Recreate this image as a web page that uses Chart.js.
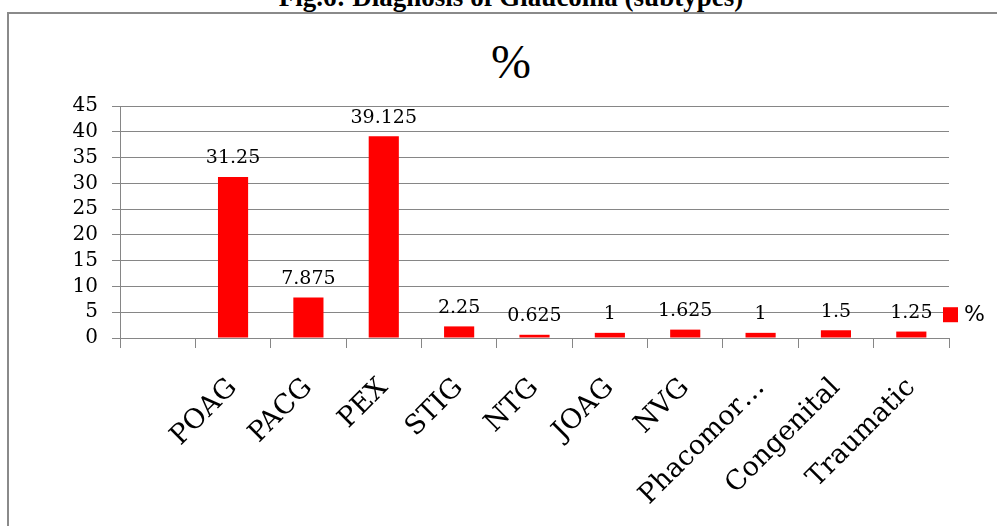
<!DOCTYPE html>
<html>
<head>
<meta charset="utf-8">
<script src="https://cdn.jsdelivr.net/npm/chart.js@4"></script>
<style>
  html, body { margin: 0; padding: 0; background: #fff; }
  #wrap { position: relative; width: 997px; height: 526px; overflow: hidden; }
  #figTitle {
    position: absolute; left: 0; width: 1022px; top: -16px; line-height: 27px;
    text-align: center; font-family: "Liberation Serif", serif; font-size: 27px; font-weight: bold; color: #000;
  }
  #frame {
    position: absolute; left: 7px; top: 12px; width: 1000px; height: 600px;
    border-top: 2px solid #8a8a8a; border-left: 2px solid #8a8a8a;
  }
  #chartTitle {
    position: absolute; left: 0; width: 1022px; top: 38px; line-height: 48px;
    text-align: center; font-family: "Liberation Serif", serif; font-size: 48px; color: #000;
  }
  canvas { position: absolute; left: 0; top: 0; }
</style>
</head>
<body>
<div id="wrap">
  <div id="figTitle">Fig.6: Diagnosis of Glaucoma (subtypes)</div>
  <div id="frame"></div>
  <div id="chartTitle">%</div>
  <canvas id="glaucoma" width="997" height="526"></canvas>
</div>
<script>
// chart data
const categories = ["", "POAG", "PACG", "PEX", "STIG", "NTG", "JOAG", "NVG", "Phacomor…", "Congenital", "Traumatic"];
const percentValues = [null, 31.25, 7.875, 39.125, 2.25, 0.625, 1, 1.625, 1, 1.5, 1.25];
const valueLabels = ["", "31.25", "7.875", "39.125", "2.25", "0.625", "1", "1.625", "1", "1.5", "1.25"];
const yTicks = [0, 5, 10, 15, 20, 25, 30, 35, 40, 45];

const gridGrey = "#868686";

// value labels above bars
const barLabels = {
  id: "barLabels",
  afterDatasetsDraw(chart) {
    const ctx = chart.ctx;
    const meta = chart.getDatasetMeta(0);
    ctx.save();
    ctx.font = "19px 'DejaVu Serif'";
    ctx.fillStyle = "#000";
    ctx.textAlign = "center";
    ctx.textBaseline = "bottom";
    meta.data.forEach((bar, i) => {
      if (percentValues[i] == null) return;
      ctx.fillText(valueLabels[i], bar.x, bar.y - 9);
    });
    ctx.restore();
  }
};

// small legend at the right edge, like the original
const sideLegend = {
  id: "sideLegend",
  afterDraw(chart) {
    const ctx = chart.ctx;
    const area = chart.chartArea;
    const ds = chart.data.datasets[0];
    const yMid = chart.scales.y.getPixelForValue(5) + 2;
    ctx.save();
    ctx.fillStyle = ds.backgroundColor;
    ctx.fillRect(area.right - 6, yMid - 7, 15, 15);
    ctx.fillStyle = "#000";
    ctx.font = "22px 'DejaVu Sans'";
    ctx.textAlign = "left";
    ctx.textBaseline = "middle";
    ctx.fillText(ds.label, area.right + 15, yMid + 1);
    ctx.restore();
  }
};

new Chart(document.getElementById("glaucoma").getContext("2d"), {
  type: "bar",
  data: {
    labels: categories,
    datasets: [{
      label: "%",
      data: percentValues,
      backgroundColor: "#FF0000",
      barPercentage: 0.4,
      categoryPercentage: 1,
    }],
  },
  options: {
    responsive: false,
    animation: false,
    layout: { padding: { top: 106, right: 48, bottom: 0, left: 0 } },
    plugins: {
      legend: { display: false },
      tooltip: { enabled: false },
      title: { display: false },
    },
    scales: {
      x: {
        afterFit(scale) { scale.height = 188; },
        grid: { drawOnChartArea: false, drawTicks: true, tickLength: 10, color: gridGrey, offset: true },
        border: { color: gridGrey, width: 1 },
        ticks: {
          color: "#000",
          minRotation: 45,
          maxRotation: 45,
          autoSkip: false,
          padding: 24,
          font: { family: "DejaVu Serif", size: 27 },
        },
      },
      y: {
        min: 0,
        max: 45,
        afterFit(scale) { scale.width = 120; },
        afterBuildTicks(scale) { scale.ticks = yTicks.map(v => ({ value: v })); },
        grid: { color: gridGrey, tickLength: 8, lineWidth: 1 },
        border: { color: gridGrey, width: 1 },
        ticks: {
          color: "#000",
          autoSkip: false,
          padding: 14,
          font: { family: "DejaVu Serif", size: 20 },
        },
      },
    },
  },
  plugins: [barLabels, sideLegend],
});
</script>
</body>
</html>
